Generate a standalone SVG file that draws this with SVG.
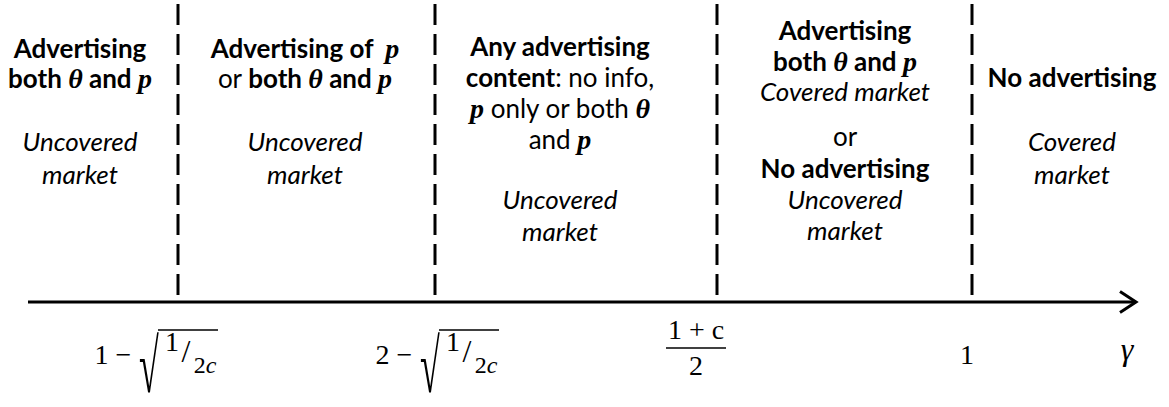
<svg xmlns="http://www.w3.org/2000/svg" width="1169" height="407" viewBox="0 0 1169 407">
<style>
text{font-family:Lato,"Open Sans","Liberation Sans",sans-serif;font-size:26px;fill:#000;text-anchor:middle}
.b{font-weight:bold}
.r{font-weight:normal}
.i{font-style:italic}
.m{font-family:"Liberation Serif","DejaVu Serif",serif;font-style:italic;font-weight:bold;font-size:28px}
.f{font-family:"Liberation Serif","DejaVu Serif",serif;font-size:28px}
.fs{font-family:"Liberation Serif","DejaVu Serif",serif;font-size:24px}
.it{font-style:italic}
.rad{font-family:"Liberation Serif","DejaVu Serif",serif;font-size:36px;text-anchor:start}
.dash{stroke:#000;stroke-width:3;stroke-dasharray:21 9;fill:none}
.ax{stroke:#000;stroke-width:3;fill:none}
.thin{stroke:#000;stroke-width:1.4;fill:none}
</style>
<rect width="1169" height="407" fill="#fff"/>
<g id="connectors">
<line class="dash" x1="178" y1="4" x2="178" y2="295"/>
<line class="dash" x1="435" y1="4" x2="435" y2="295"/>
<line class="dash" x1="717" y1="4" x2="717" y2="295"/>
<line class="dash" x1="972" y1="4" x2="972" y2="295"/>
<line class="ax" x1="28" y1="302" x2="1136" y2="302"/>
<polyline class="ax" points="1120,291.5 1136,302 1120,312.5"/>
</g>
<g id="region1">
<text x="80" y="58" class="b">Advertising</text>
<text x="80" y="88" class="b">both <tspan class="m">θ</tspan> and <tspan class="m">p</tspan></text>
<text x="80" y="151" class="i">Uncovered</text>
<text x="80" y="184" class="i">market</text>
</g>
<g id="region2">
<text x="305" y="58" class="b">Advertising of <tspan class="m" dx="6">p</tspan></text>
<text x="305" y="88"><tspan class="r">or </tspan><tspan class="b">both </tspan><tspan class="m">θ</tspan><tspan class="b"> and </tspan><tspan class="m">p</tspan></text>
<text x="305" y="151" class="i">Uncovered</text>
<text x="305" y="184" class="i">market</text>
</g>
<g id="region3">
<text x="560" y="56" class="b">Any advertising</text>
<text x="560" y="87"><tspan class="b">content</tspan>: no info,</text>
<text x="560" y="118"><tspan class="m">p</tspan> only or both <tspan class="m">θ</tspan></text>
<text x="560" y="149">and <tspan class="m">p</tspan></text>
<text x="560" y="209" class="i">Uncovered</text>
<text x="560" y="241" class="i">market</text>
</g>
<g id="region4">
<text x="845" y="40" class="b">Advertising</text>
<text x="845" y="71" class="b">both <tspan class="m">θ</tspan> and <tspan class="m">p</tspan></text>
<text x="845" y="101" class="i">Covered market</text>
<text x="845" y="146">or</text>
<text x="845" y="178" class="b">No advertising</text>
<text x="845" y="209" class="i">Uncovered</text>
<text x="845" y="240" class="i">market</text>
</g>
<g id="region5">
<text x="1072" y="87" class="b">No advertising</text>
<text x="1072" y="151" class="i">Covered</text>
<text x="1072" y="184" class="i">market</text>
</g>
<g id="label1">
<text x="113" y="364" class="f">1 −</text>
<text class="rad" transform="translate(139,392) scale(1,2.1)">√</text>
<line class="thin" x1="158" y1="330" x2="218" y2="330"/>
<text x="172" y="351" class="f">1</text>
<text x="186" y="362" class="f" style="font-size:32px">/</text>
<text x="205" y="373" class="fs">2<tspan class="it">c</tspan></text>
</g>
<g id="label2">
<text x="394" y="364" class="f">2 −</text>
<text class="rad" transform="translate(420,392) scale(1,2.1)">√</text>
<line class="thin" x1="439" y1="330" x2="499" y2="330"/>
<text x="453" y="351" class="f">1</text>
<text x="467" y="362" class="f" style="font-size:32px">/</text>
<text x="486" y="373" class="fs">2<tspan class="it">c</tspan></text>
</g>
<g id="label3">
<text x="696" y="339" class="f">1 + c</text>
<line class="thin" x1="666" y1="348" x2="726" y2="348"/>
<text x="696" y="375" class="f">2</text>
</g>
<g id="label4">
<text x="967" y="364" class="f">1</text>
</g>
<g id="label5">
<text x="1127" y="360" class="f" style="font-style:italic;font-size:32px">γ</text>
</g>
</svg>
